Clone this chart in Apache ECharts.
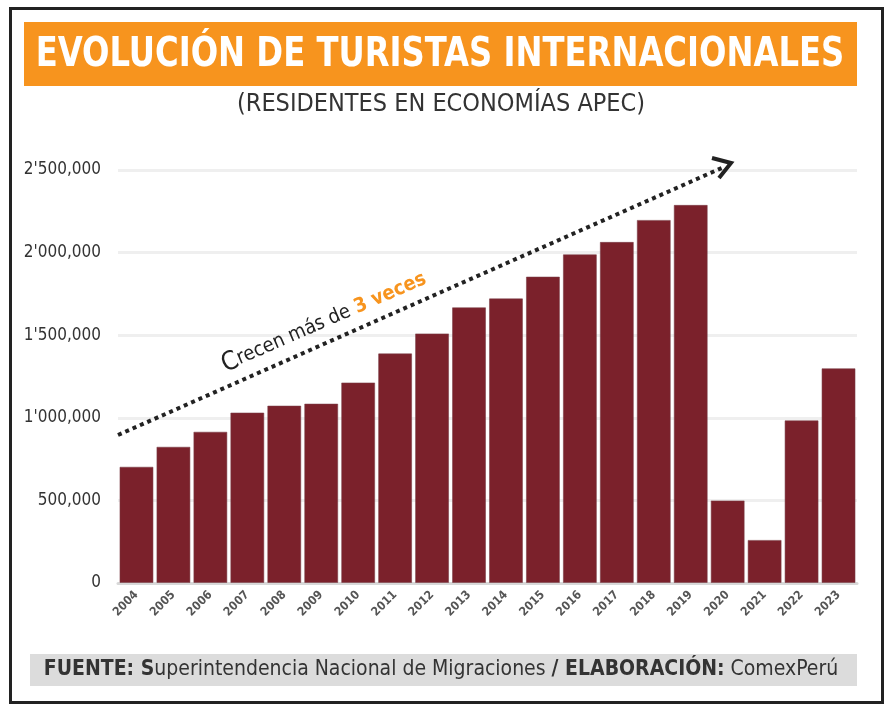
<!DOCTYPE html>
<html><head><meta charset="utf-8">
<script src="https://cdn.jsdelivr.net/npm/echarts@6/dist/echarts.min.js"></script>
<style>html,body{margin:0;padding:0;background:#fff}#c{width:889px;height:708px}</style>
</head><body><div id="c"></div>
<script>
const years = ['2004','2005','2006','2007','2008','2009','2010','2011','2012','2013','2014','2015','2016','2017','2018','2019','2020','2021','2022','2023'];
const tourists = [704000,825000,916000,1032000,1074000,1086000,1214000,1390000,1511000,1669000,1723000,1855000,1990000,2065000,2198000,2289000,500000,261000,985000,1300000];
const yTicks = [0,500000,1000000,1500000,2000000,2500000];
const titleText = 'EVOLUCIÓN DE TURISTAS INTERNACIONALES';
const subtitleText = '(RESIDENTES EN ECONOMÍAS APEC)';

const FONT = '"DejaVu Sans Condensed","Liberation Sans Narrow",sans-serif';
function fmt(v){
  if (v === 0) return '0';
  const m = Math.floor(v/1e6), r = v % 1e6;
  const th = Math.floor(r/1000), u = r % 1000;
  const pad = (n,l)=>String(n).padStart(l,'0');
  if (m > 0) return m + "'" + pad(th,3) + ',' + pad(u,3);
  return th + ',' + pad(u,3);
}
const chart = echarts.init(document.getElementById('c'), null, {renderer:'canvas'});
const ang = 23.5*Math.PI/180;
chart.setOption({
  animation:false,
  backgroundColor:'#fff',
  grid:{left:118,right:32,top:170,bottom:125},
  xAxis:{type:'category',data:years,
    axisLine:{lineStyle:{color:'#d8d8d8',width:3}},
    axisTick:{show:false},
    axisLabel:{rotate:45,color:'#555',fontFamily:FONT,fontWeight:'bold',fontSize:12,margin:10}},
  yAxis:{type:'value',min:yTicks[0],max:yTicks[yTicks.length-1],interval:500000,
    axisLine:{show:false},axisTick:{show:false},
    splitLine:{lineStyle:{color:'#efefef',width:3}},
    axisLabel:{formatter:fmt,color:'#333',fontFamily:FONT,fontSize:17,margin:17}},
  series:[{type:'bar',data:tourists,barCategoryGap:'8%',
    itemStyle:{color:'#7b212b',borderColor:'rgba(120,60,70,0.55)',borderWidth:1}}],
  graphic:[
    {type:'rect',left:8,top:6,shape:{width:872,height:694},style:{fill:'none',stroke:'#222',lineWidth:3},z:100},
    {type:'rect',left:24,top:22,shape:{width:833,height:64},style:{fill:'#f7941e'}},
    {type:'text',x:440,y:55,scaleX:0.875,style:{text:titleText,fill:'#fff',font:'bold 41px '+FONT,textAlign:'center',textVerticalAlign:'middle'}},
    {type:'text',x:441,y:104,style:{text:subtitleText,fill:'#333',font:'25px '+FONT,textAlign:'center',textVerticalAlign:'middle'}},
    {type:'rect',left:30,top:654,shape:{width:827,height:32},style:{fill:'#dcdcdc'}},
    {type:'text',x:441,y:670,style:{
      text:'{b|FUENTE: S}{n|uperintendencia Nacional de Migraciones }{b|/ ELABORACIÓN:}{n| ComexPerú}',
      textAlign:'center',textVerticalAlign:'middle',
      rich:{b:{font:'bold 21px '+FONT,fill:'#333'},n:{font:'21px '+FONT,fill:'#333'}}}},
    {type:'line',shape:{x1:118,y1:435,x2:724,y2:167},style:{stroke:'#222',lineWidth:4,lineDash:[4,4]},z:50},
    {type:'polyline',shape:{points:[[712,158],[731,163],[719,178]]},style:{stroke:'#222',lineWidth:4,fill:'none'},z:50},
    {type:'text',x:228,y:378,rotation:ang,style:{
      text:'{c|C}{n|recen más de }{o|3 veces}',textVerticalAlign:'bottom',
      rich:{c:{font:'26px '+FONT,fill:'#222'},n:{font:'20px '+FONT,fill:'#222'},o:{font:'bold 20px '+FONT,fill:'#f7941e'}}},z:50}
  ]
});
</script></body></html>
